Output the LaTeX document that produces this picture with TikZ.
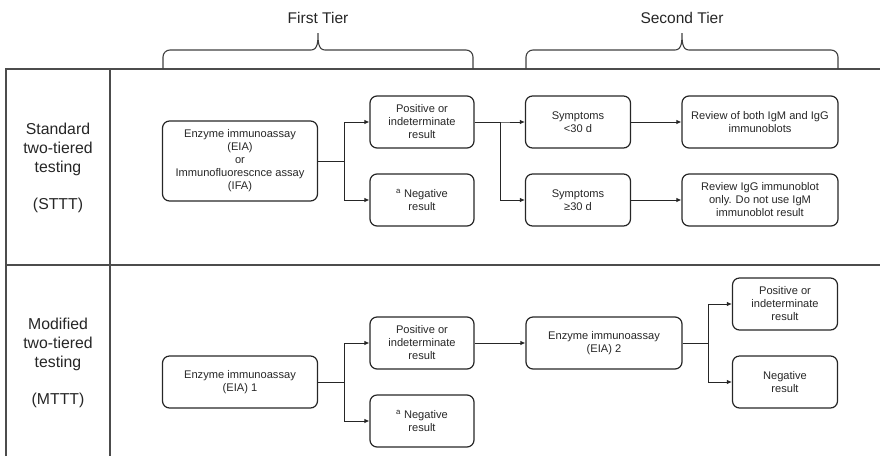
\documentclass[tikz,border=0pt]{standalone}
\usepackage{fontspec}
\setmainfont{Liberation Sans}
\usetikzlibrary{arrows.meta, positioning}

\begin{document}
\begin{tikzpicture}[
        x=1pt, y=-1pt,
        every node/.style={align=center, text=black!85, font=\fontsize{11.1}{13}\selectfont},
        box/.style={draw=black!85, line width=1.2pt, rounded corners=7pt, inner sep=0pt, minimum height=52pt},
        widebox/.style={box, minimum width=155pt},
        smallbox/.style={box, minimum width=104pt},
        rowlabel/.style={font=\fontsize{15.8}{18.7}\selectfont},
        tierlabel/.style={font=\fontsize{15.5}{18}\selectfont},
        grid/.style={draw=black!70, line width=1.4pt},
        tierbrace/.style={draw=black!75, line width=1.1pt},
        link/.style={-{Latex[length=5pt,width=4.5pt]}, draw=black!85, line width=0.9pt}
        ]
        \useasboundingbox (0,0) rectangle (880,456);

        % Table
        \draw[grid] (6,456) -- (6,69) -- (880,69);
        \draw[grid] (110,69) -- (110,456);
        \draw[grid] (6,265) -- (880,265);

        % Braces
        \draw[tierbrace] (163,69) -- (163,57) to[out=90,in=180] (170,50) -- (311,50)
            to[out=0,in=-90] (318,33) to[out=-90,in=180] (325,50) -- (466,50)
            to[out=0,in=90] (473,57) -- (473,69);
        \draw[tierbrace] (526,69) -- (526,57) to[out=90,in=180] (533,50) -- (675,50)
            to[out=0,in=-90] (682,33) to[out=-90,in=180] (689,50) -- (831,50)
            to[out=0,in=90] (838,57) -- (838,69);
        \node[tierlabel] (tier1) at (318,18) {First Tier};
        \node[tierlabel] (tier2) at (682,18) {Second Tier};

        % Row labels
        \node[rowlabel] (sttt) at (58,168) {Standard\\two-tiered\\testing\\[18.7pt](STTT)};
        \node[rowlabel] (mttt) at (58,363) {Modified\\two-tiered\\testing\\[18.7pt](MTTT)};

        % Nodes: standard
        \node[widebox, minimum height=80pt] (eia) at (240,161) {Enzyme immunoassay\\(EIA)\\or\\Immunofluorescnce assay\\(IFA)};
        \node[smallbox] (pos) at (422,122) {Positive or\\indeterminate\\result};
        \node[smallbox] (neg) at (422,200) {\textsuperscript{a} Negative\\result};
        \node[smallbox, minimum width=105pt] (early) at (578,122) {Symptoms\\<30 d};
        \node[smallbox, minimum width=105pt] (late) at (578,200) {Symptoms\\≥30 d};
        \node[widebox, minimum width=156pt] (bothblots) at (760,122) {Review of both IgM and IgG\\immunoblots};
        \node[widebox, minimum width=156pt] (iggblot) at (760,200) {Review IgG immunoblot\\only. Do not use IgM\\immunoblot result};

        % Nodes: modified
        \node[widebox] (eiaone) at (240,382) {Enzyme immunoassay\\(EIA) 1};
        \node[smallbox] (posone) at (422,343) {Positive or\\indeterminate\\result};
        \node[smallbox] (negone) at (422,421) {\textsuperscript{a} Negative\\result};
        \node[widebox, minimum width=156pt] (eiatwo) at (604,343) {Enzyme immunoassay\\(EIA) 2};
        \node[smallbox, minimum width=105pt] (postwo) at (785,304) {Positive or\\indeterminate\\result};
        \node[smallbox, minimum width=105pt] (negtwo) at (785,382) {Negative\\result};

        % Arrows
        \draw[link] (eia.east) -- ++(26,0) |- (pos);
        \draw[link] (eia.east) -- ++(26,0) |- (neg);
        \draw[link] (pos.east) -- ++(26,0) |- (early);
        \draw[link] (pos.east) -- ++(26,0) |- (late);
        \draw[link] (early) -- (bothblots);
        \draw[link] (late) -- (iggblot);
        \draw[link] (eiaone.east) -- ++(26,0) |- (posone);
        \draw[link] (eiaone.east) -- ++(26,0) |- (negone);
        \draw[link] (posone) -- (eiatwo);
        \draw[link] (eiatwo.east) -- ++(26,0) |- (postwo);
        \draw[link] (eiatwo.east) -- ++(26,0) |- (negtwo);

\end{tikzpicture}
\end{document}
